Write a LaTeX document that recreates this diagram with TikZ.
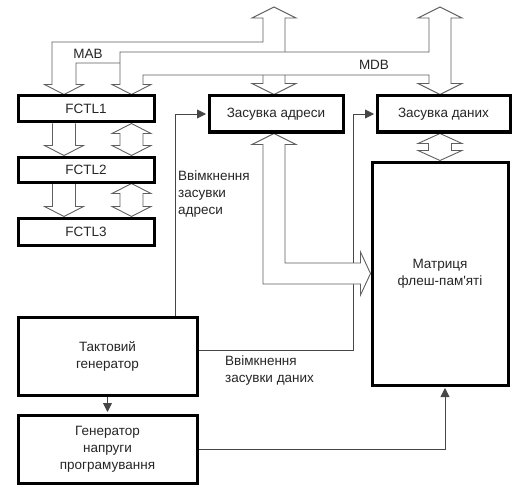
\documentclass[tikz,border=0pt]{standalone}
\usepackage{fontspec}
\setmainfont{Liberation Sans}
\definecolor{busline}{RGB}{95,95,95}
\definecolor{sigline}{RGB}{70,70,70}
\usetikzlibrary{arrows.meta,calc,backgrounds}
\tikzset{
  blk/.style={rectangle,draw=black,line width=3pt,fill=white,inner sep=0pt,
    minimum width=136pt,align=center,font=\fontsize{13.5}{17}\selectfont,
    text=black!85},
  bus/.style={draw=busline,line width=0.9pt,fill=white,line join=miter},
  sig/.style={-{Triangle[length=9pt,width=9pt]},draw=sigline,line width=0.9pt,
    shorten >=1.5pt},
  lbl/.style={font=\fontsize{13.5}{17}\selectfont,text=black!85,inner sep=0pt},
}
% hollow bus arrows: [head half width]{column}{from anchor}{to anchor}
\newcommand{\busdown}[4][19.5]{%
  \draw[bus] ($(#2 |- #3)+(-11.5,0)$) -- ($(#2 |- #4)+(-11.5,-10)$)
    -- ($(#2 |- #4)+(-#1,-10)$) -- (#2 |- #4) -- ($(#2 |- #4)+(#1,-10)$)
    -- ($(#2 |- #4)+(11.5,-10)$) -- ($(#2 |- #3)+(11.5,0)$);}
\newcommand{\busboth}[4][19.5]{%
  \draw[bus] (#2 |- #3) -- ($(#2 |- #3)+(#1,10)$) -- ($(#2 |- #3)+(11.5,10)$)
    -- ($(#2 |- #4)+(11.5,-10)$) -- ($(#2 |- #4)+(#1,-10)$) -- (#2 |- #4)
    -- ($(#2 |- #4)+(-#1,-10)$) -- ($(#2 |- #4)+(-11.5,-10)$)
    -- ($(#2 |- #3)+(-11.5,10)$) -- ($(#2 |- #3)+(-#1,10)$) -- cycle;}

\begin{document}
\begin{tikzpicture}[x=1pt,y=-1pt]
  \useasboundingbox (0,0) rectangle (520,487);

  \node[blk,minimum height=26pt] (fctl1) at (86,109) {FCTL1};
  \node[blk,minimum height=25pt] (fctl2) at (86,169.5) {FCTL2};
  \node[blk,minimum height=27pt] (fctl3) at (86,231.5) {FCTL3};

  \node[blk,minimum width=134pt,minimum height=36pt] (lata) at (276,114) {Засувка адреси};
  \node[blk,minimum width=133pt,minimum height=36pt] (latd) at (443.5,114) {Засувка даних};
  \node[blk,minimum width=136pt,minimum height=223pt] (mat) at (440,273.5)
    {Матриця\\флеш-пам\textquotesingle яті};

  \node[blk,minimum width=179pt,minimum height=78pt] (clk) at (107.5,356)
    {Тактовий\\генератор};
  \node[blk,minimum width=179pt,minimum height=68pt] (vgen) at (107.5,449)
    {Генератор\\напруги\\програмування};

  \node[lbl] (mab) at (88,54) {MAB};
  \node[lbl] (mdb) at (374,65) {MDB};
  \node[lbl,anchor=west,align=left] (adrlbl) at (178,194.5)
    {Ввімкнення\\засувки\\адреси};
  \node[lbl,anchor=west,align=left] (datlbl) at (225,371)
    {Ввімкнення\\засувки даних};

  \coordinate (cA) at (64,0);
  \coordinate (cB) at (131.5,0);
  \coordinate (cM) at (274,0);
  \coordinate (cD) at (440,0);
  \coordinate (top) at (0,7);

  \begin{scope}[on background layer]
    \fill[white] (0,0) rectangle (520,487);

    \draw[sig] ([xshift=67.5pt]clk.north) |- (lata.west);
    \draw[sig] ([yshift=6pt]clk.east) -- ++(155,0) |- (latd.west);
    \draw[sig] (clk.south) -- (vgen.north);
    \draw[sig] (vgen.east) -| ([xshift=5pt]mat.south);

    % MAB
    \draw[bus] (cM |- top) -- ++(22,11) -- ++(-11,0)
      -- ($(cM |- lata.north)+(11,-11)$) -- ++(11,0) -- (cM |- lata.north)
      -- ++(-22,-11) -- ++(11,0) -- ($(cM)+(-11,63)$) -- ($(cA)+(12,63)$)
      -- ($(cA |- fctl1.north)+(12,-10)$) -- ++(7.5,0) -- (cA |- fctl1.north)
      -- ++(-19.5,-10) -- ++(7.5,0) -- ($(cA)+(-12,42)$) -- ($(cM)+(-11,42)$)
      -- ($(cM |- top)+(-11,11)$) -- ++(-11,0) -- cycle;
    % MDB
    \draw[bus] (cD |- top) -- ++(22,11) -- ++(-11,0)
      -- ($(cD |- latd.north)+(11,-11)$) -- ++(11,0) -- (cD |- latd.north)
      -- ++(-22,-11) -- ++(11,0) -- ($(cD)+(-11,75)$) -- ($(cB)+(11.5,75)$)
      -- ($(cB |- fctl1.north)+(11.5,-10)$) -- ++(8,0) -- (cB |- fctl1.north)
      -- ++(-19.5,-10) -- ++(8,0) -- ($(cB)+(-11.5,52)$) -- ($(cD)+(-11,52)$)
      -- ($(cD |- top)+(-11,11)$) -- ++(-11,0) -- cycle;

    \busdown{cA}{fctl1.south}{fctl2.north}
    \busboth{cB}{fctl1.south}{fctl2.north}
    \busdown{cA}{fctl2.south}{fctl3.north}
    \busboth{cB}{fctl2.south}{fctl3.north}
    \busboth[22]{cD}{latd.south}{mat.north}

    \draw[bus] (cM |- lata.south) -- ++(22,11) -- ++(-11,0)
      -- ($(cM |- mat.west)+(11,-10.5)$) -- ($(mat.west)+(-10,-10.5)$)
      -- ++(0,-11) -- (mat.west) -- ++(-10,21.5) -- ++(0,-11)
      -- ($(cM |- mat.west)+(-11,10.5)$) -- ($(cM |- lata.south)+(-11,11)$)
      -- ++(-11,0) -- cycle;
  \end{scope}
\end{tikzpicture}
\end{document}
